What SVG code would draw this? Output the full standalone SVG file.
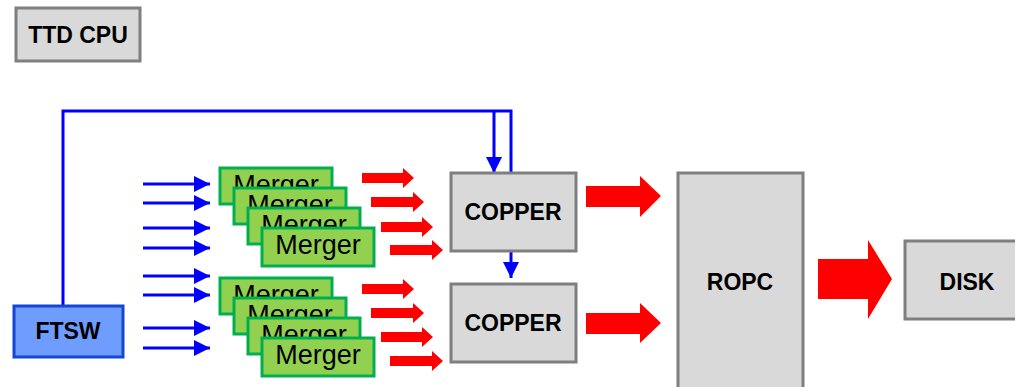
<svg xmlns="http://www.w3.org/2000/svg" width="1015" height="387" viewBox="0 0 1015 387">
<style>
.box{fill:#d9d9d9;stroke:#7f7f7f;stroke-width:3}
.lbl{font-family:"Liberation Sans",Arial,sans-serif;font-weight:bold;font-size:23px;fill:#000;text-anchor:middle;dominant-baseline:central}
.mg{fill:#92d050;stroke:#00b050;stroke-width:3}
.mgt{font-family:"Liberation Sans",Arial,sans-serif;font-size:27px;fill:#000;text-anchor:middle}
.bl{stroke:#0000ff;stroke-width:3;fill:none}
.ra{fill:#ff0000}
</style>
<defs>
<marker id="ah" markerUnits="userSpaceOnUse" markerWidth="16" markerHeight="16" refX="16" refY="8" orient="auto">
<path d="M0,0 L16,8 L0,16 Z" fill="#0000ff"/>
</marker>
<g id="mstack">
<rect class="mg" x="220" y="168" width="112" height="36"/>
<text class="mgt" x="276" y="194">Merger</text>
<rect class="mg" x="234" y="188" width="112" height="36"/>
<text class="mgt" x="290" y="214">Merger</text>
<rect class="mg" x="248" y="208" width="112" height="36"/>
<text class="mgt" x="304" y="234">Merger</text>
<rect class="mg" x="262" y="228" width="112" height="38"/>
<text class="mgt" x="318" y="254">Merger</text>
</g>
</defs>

<g id="ttdcpu">
<rect class="box" x="16" y="8" width="124" height="53"/>
<text class="lbl" x="78" y="35">TTD CPU</text>
</g>

<g id="connectors">
<polyline class="bl" points="63,306 63,111 511,111 511,173"/>
<line class="bl" x1="494" y1="111" x2="494" y2="173" marker-end="url(#ah)"/>
<line class="bl" x1="511" y1="251" x2="511" y2="278" marker-end="url(#ah)"/>
<line class="bl" x1="143" y1="184" x2="210" y2="184" marker-end="url(#ah)"/>
<line class="bl" x1="143" y1="203" x2="210" y2="203" marker-end="url(#ah)"/>
<line class="bl" x1="143" y1="228" x2="210" y2="228" marker-end="url(#ah)"/>
<line class="bl" x1="143" y1="248" x2="210" y2="248" marker-end="url(#ah)"/>
<line class="bl" x1="143" y1="276" x2="210" y2="276" marker-end="url(#ah)"/>
<line class="bl" x1="143" y1="295" x2="210" y2="295" marker-end="url(#ah)"/>
<line class="bl" x1="143" y1="328" x2="210" y2="328" marker-end="url(#ah)"/>
<line class="bl" x1="143" y1="348" x2="210" y2="348" marker-end="url(#ah)"/>
<polygon class="ra" points="362,173 403,173 403,168 414,178 403,188 403,183 362,183"/>
<polygon class="ra" points="371,197 413,197 413,192 424,202 413,212 413,207 371,207"/>
<polygon class="ra" points="381,222 422,222 422,217 433,227 422,237 422,232 381,232"/>
<polygon class="ra" points="390,245 432,245 432,240 443,250 432,260 432,255 390,255"/>
<polygon class="ra" points="362,284 403,284 403,279 414,289 403,299 403,294 362,294"/>
<polygon class="ra" points="371,308 413,308 413,303 424,313 413,323 413,318 371,318"/>
<polygon class="ra" points="381,332 422,332 422,327 433,337 422,347 422,342 381,342"/>
<polygon class="ra" points="390,356 432,356 432,351 443,361 432,371 432,366 390,366"/>
<polygon class="ra" points="586,186 640,186 640,176 661,196 640,217 640,207 586,207"/>
<polygon class="ra" points="586,313 640,313 640,303 661,323 640,343 640,334 586,334"/>
<polygon class="ra" points="818,259 868,259 868,240 892,279 868,319 868,299 818,299"/>
</g>

<g id="merger-top">
<use href="#mstack"/>
</g>
<g id="merger-bottom">
<use href="#mstack" transform="translate(0,110)"/>
</g>

<g id="copper1">
<rect class="box" x="451" y="173" width="125" height="78"/>
<text class="lbl" x="513" y="212">COPPER</text>
</g>
<g id="copper2">
<rect class="box" x="451" y="284" width="125" height="78"/>
<text class="lbl" x="513" y="323">COPPER</text>
</g>
<g id="ropc">
<rect class="box" x="678" y="173" width="125" height="220"/>
<text class="lbl" x="740" y="282">ROPC</text>
</g>
<g id="disk">
<rect class="box" x="905" y="241" width="112" height="78"/>
<text class="lbl" x="967" y="282">DISK</text>
</g>
<g id="ftsw">
<rect x="14" y="306" width="109" height="51" fill="#6f9cff" stroke="#1447d4" stroke-width="3"/>
<text class="lbl" x="68" y="331">FTSW</text>
</g>
</svg>
